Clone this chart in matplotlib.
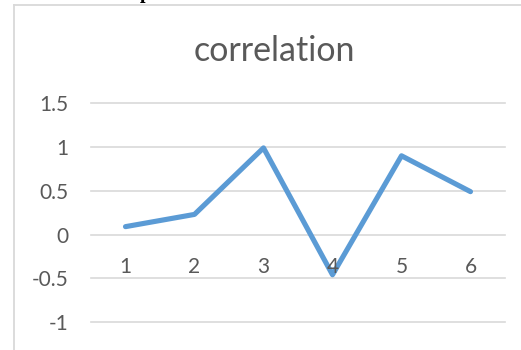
import matplotlib
matplotlib.use('Agg')
import matplotlib.pyplot as plt
from matplotlib.lines import Line2D

# Correlation per step
steps = ['1', '2', '3', '4', '5', '6']
corr = [0.09, 0.23, 0.99, -0.46, 0.90, 0.49]
yticks = [-1, -0.5, 0, 0.5, 1, 1.5]

W, H = 521, 350
grey = '#595959'
grid = '#d9d9d9'

plt.rcParams['font.family'] = ['Lato', 'DejaVu Sans']

fig = plt.figure(figsize=(W / 100, H / 100), dpi=100)
ax = fig.add_axes([91 / W, 1 - 322 / H, 414 / W, (322 - 103.3) / H])

xs = list(range(len(steps)))
ax.plot(xs, corr, color='#5b9bd5', lw=3.7, solid_capstyle='round',
        solid_joinstyle='round', zorder=3)

ax.set_xlim(-0.5, len(steps) - 0.5)
ax.set_ylim(-1, 1.5)
for v in yticks:
    ax.axhline(v, color=grid, lw=1.2, zorder=1, clip_on=False)

ax.set_yticks(yticks)
ax.set_yticklabels([f'{v:g}' for v in yticks])
ax.tick_params(axis='y', length=0, pad=16, labelsize=15, labelcolor=grey)
ax.set_xticks([])
for s in ax.spines.values():
    s.set_visible(False)

# category labels sit just under the zero line
for x, lab in zip(xs, steps):
    ax.annotate(lab, (x, 0), xytext=(0, -23.3), textcoords='offset points',
                ha='center', va='center', fontsize=15, color=grey)

fig.text(274.5 / W, 1 - 51 / H, 'correlation', ha='center', va='center',
         fontsize=24.5, color=grey)

# chart frame (left and top edges)
fig.add_artist(Line2D([14 / W, 14 / W], [0, 1 - 5 / H], color=grid, lw=1.3,
                      transform=fig.transFigure))
fig.add_artist(Line2D([14 / W, 1], [1 - 5 / H, 1 - 5 / H], color=grid, lw=1.3,
                      transform=fig.transFigure))

# heading above, cut off by the page edge
fig.text(145 / W, 1 + 2 / H, 'p', ha='center', va='baseline', fontsize=14.4,
         fontweight='bold', family='Liberation Serif', color='black')

fig.savefig('out.png', dpi=100)
